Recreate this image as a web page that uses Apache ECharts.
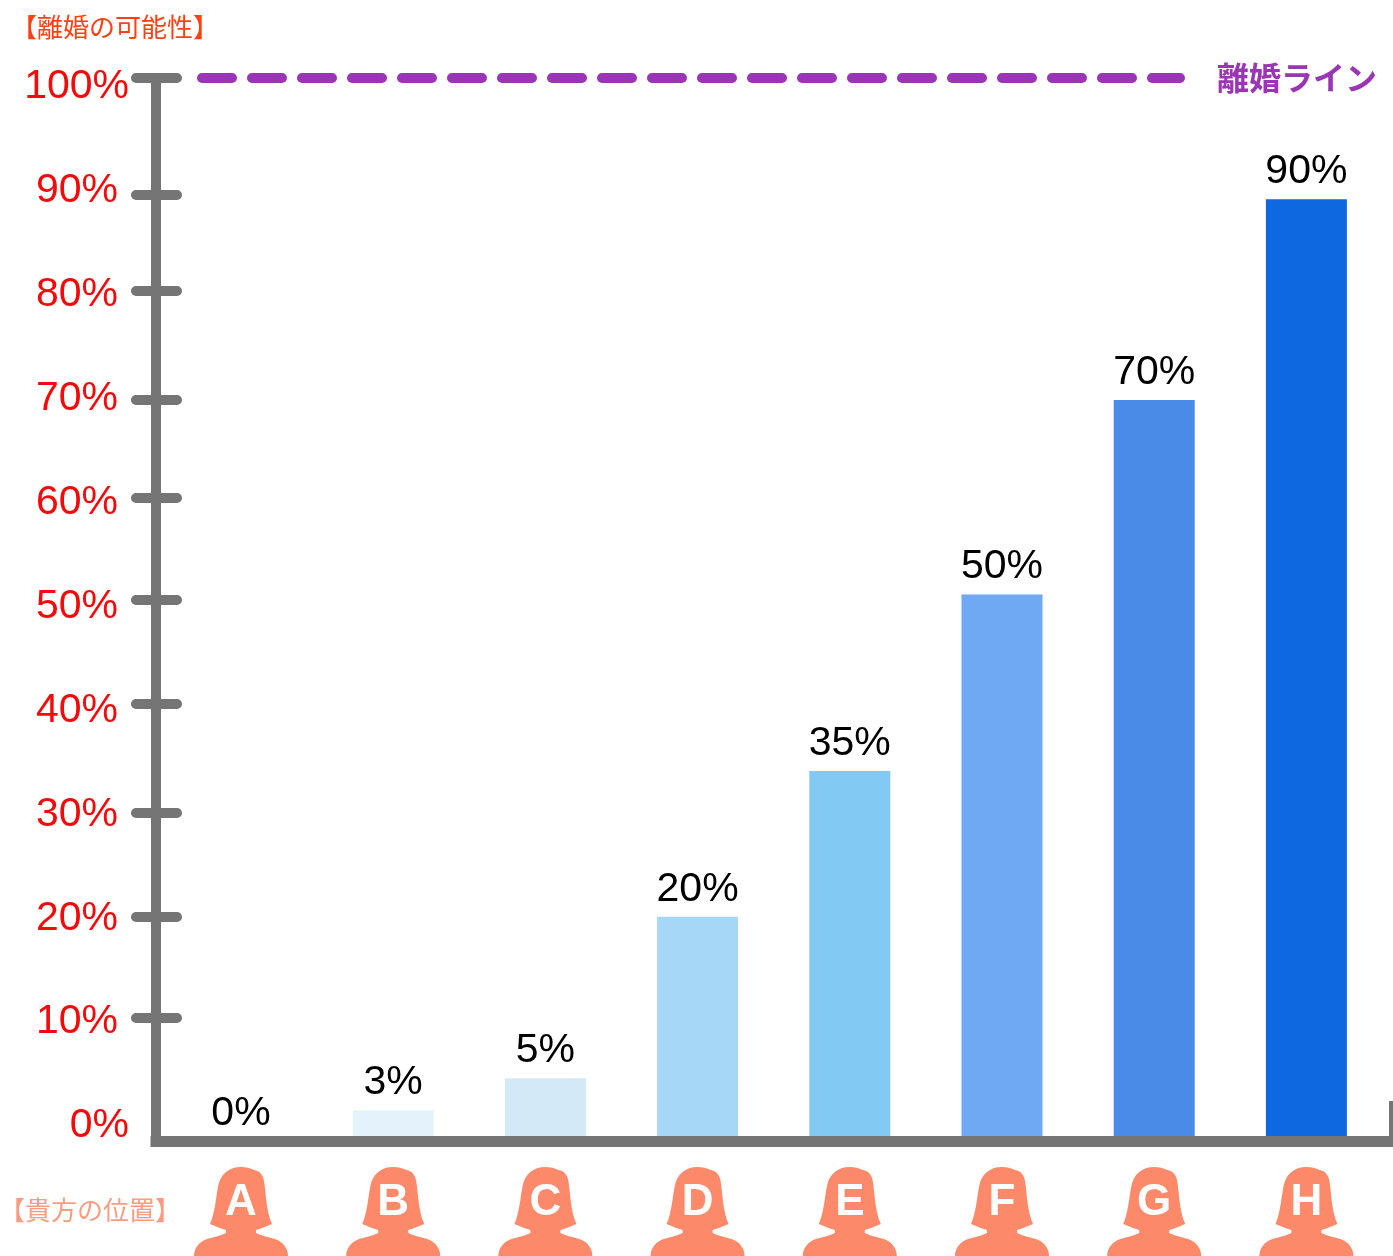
<!DOCTYPE html>
<html>
<head>
<meta charset="utf-8">
<style>html,body{margin:0;padding:0;background:#fff}#c{width:1393px;height:1256px}</style>
<script src="https://cdn.jsdelivr.net/npm/echarts@6/dist/echarts.min.js"></script>
</head>
<body>
<div id="c"></div>
<script>
const categories = ['A','B','C','D','E','F','G','H'];
const labelValues = [0,3,5,20,35,50,70,90];
const barHeights = [0,2.9,5.9,21.1,34.8,51.4,69.7,88.6];
const barColors = ['#ffffff','#E3F2FB','#D3E9F8','#A7D7F7','#82CAF3','#6FA9F3','#498BE6','#0E68E0'];
const tickValues = [11.6,21.1,30.9,41.1,50.9,60.5,69.7,80,89,100];
const tickLabels = [0,10,20,30,40,50,60,70,80,90,100];
const lineEnds = [[46,100],[1024,100]];
const lineName = '離婚ライン';
const yTitle = '【離婚の可能性】';
const xTitle = '【貴方の位置】';

const LATIN = '"Liberation Sans", Arial, sans-serif';
const CJK = '"Noto Sans CJK JP", sans-serif';
const GRAY = '#757575';
const PERSON = 'path://M47 0 C52 0 56 1 60 3 C66 4 69 8 70 14 C72 26 72 44 78 57 C71 60 66 62 62 63 L62 66 C68 69 75 70 81 72 C89 75 94 81 94 89 L0 89 C0 81 5 75 13 72 C19 70 26 69 32 66 L32 63 C28 62 23 60 16 57 C21 46 22 30 24 20 C26 7 35 0 47 0 Z';

const BAR_LEFT = 164.9, BAR_WIDTH = 1217.6;
const hidden = {show:false};

const chart = echarts.init(document.getElementById('c'), null, {renderer:'canvas'});
chart.setOption({
  animation:false,
  backgroundColor:'#fff',
  title:[
    {text:yTitle,left:11,top:14,padding:0,textStyle:{fontFamily:CJK,fontSize:26,fontWeight:'normal',color:'#FF4010'}},
    {text:xTitle,left:-1,top:1197,padding:0,textStyle:{fontFamily:CJK,fontSize:26,fontWeight:'normal',color:'#FB9C80'}}
  ],
  grid:[
    {left:156,width:1237,top:78,height:1063},
    {left:BAR_LEFT,width:BAR_WIDTH,top:78,height:1063},
    {left:BAR_LEFT,width:BAR_WIDTH,top:1167,height:89}
  ],
  xAxis:[
    {type:'value',gridIndex:0,min:0,max:1237,z:5,splitLine:hidden,axisLabel:hidden,
     axisLine:{show:true,lineStyle:{color:GRAY,width:11,cap:'square'}},
     axisTick:{show:true,inside:true,length:40,customValues:[1236],lineStyle:{color:GRAY,width:6}}},
    {type:'category',gridIndex:1,data:categories,axisLine:hidden,axisTick:hidden,axisLabel:hidden},
    {type:'category',gridIndex:2,data:categories,axisLine:hidden,axisTick:hidden,axisLabel:hidden}
  ],
  yAxis:[
    {type:'value',gridIndex:0,min:0,max:100,position:'left',z:5,splitLine:hidden,axisLabel:hidden,axisTick:hidden,
     axisLine:{show:true,lineStyle:{color:GRAY,width:10}}},
    {type:'value',gridIndex:0,min:0,max:100,position:'left',offset:-21,z:5,splitLine:hidden,axisLabel:hidden,axisLine:hidden,
     axisTick:{show:true,length:41,customValues:tickValues,lineStyle:{color:GRAY,width:10,cap:'round'}}},
    {type:'value',gridIndex:0,min:-1.44,max:100.87,position:'left',offset:27,splitLine:hidden,axisLine:hidden,axisTick:hidden,
     axisLabel:{show:true,margin:0,customValues:tickLabels,hideOverlap:false,showMinLabel:true,showMaxLabel:true,
       formatter:v=>(v===0||v===100)?v+'%':'{a|'+v+'%}',
       color:'#F40A0A',fontFamily:LATIN,fontSize:41,
       rich:{a:{color:'#F40A0A',fontFamily:LATIN,fontSize:41,padding:[0,11,0,0]}}}},
    {type:'value',gridIndex:1,min:0,max:100,show:false},
    {type:'value',gridIndex:2,min:0,max:1,show:false}
  ],
  series:[
    {type:'bar',xAxisIndex:1,yAxisIndex:3,barWidth:81,z:2,silent:true,
     data:barHeights.map((h,i)=>({value:h,itemStyle:{color:barColors[i]},
       label:{formatter:labelValues[i]+'%'}})),
     label:{show:true,position:'top',distance:7,color:'#000',fontFamily:LATIN,fontSize:41}},
    {type:'line',xAxisIndex:0,yAxisIndex:0,data:lineEnds,symbol:'none',clip:false,silent:true,z:3,
     lineStyle:{color:'#9A35B5',width:10,type:[30,20],cap:'round'},
     endLabel:{show:true,formatter:lineName,distance:37,color:'#9A35B5',fontFamily:CJK,fontSize:32,fontWeight:'bold'}},
    {type:'scatter',xAxisIndex:2,yAxisIndex:4,symbol:PERSON,symbolSize:[94,89],silent:true,clip:false,z:3,
     itemStyle:{color:'#FC8969',opacity:1},
     data:categories.map(c=>({name:c,value:[c,0.5]})),
     label:{show:true,position:'inside',offset:[0,-9],formatter:'{b}',color:'#fff',fontFamily:LATIN,fontSize:44,fontWeight:'bold'}}
  ]
});
</script>
</body>
</html>
